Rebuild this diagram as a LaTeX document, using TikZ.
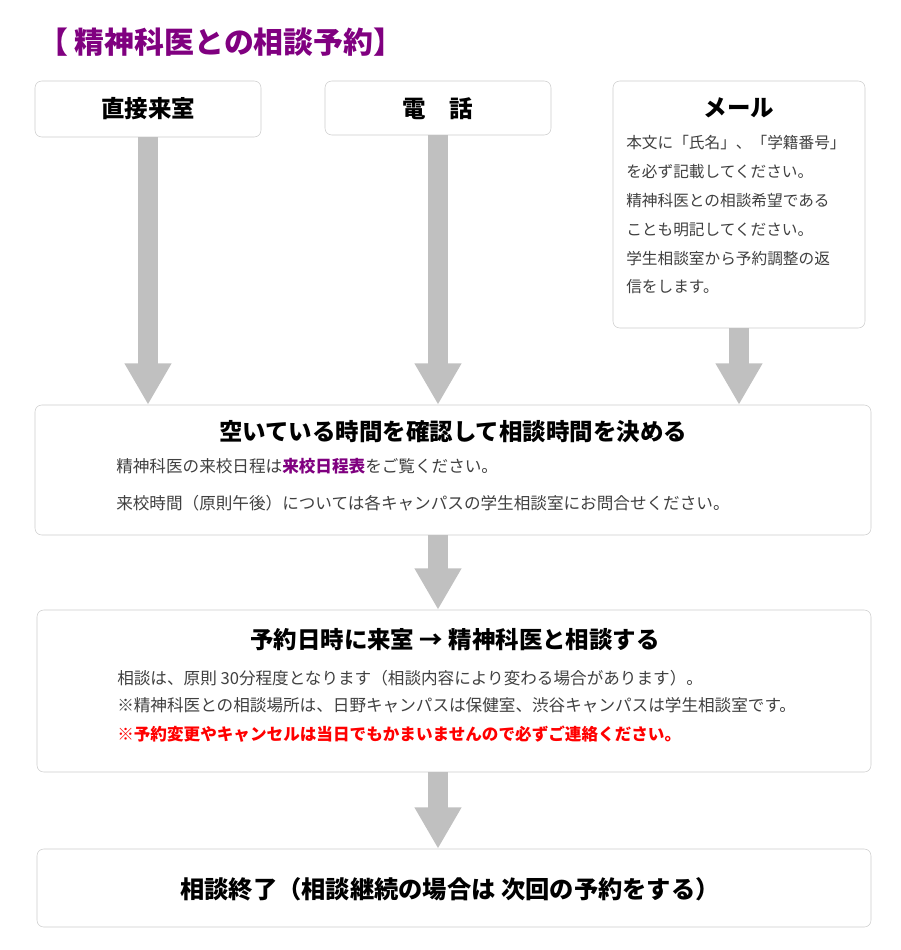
\documentclass[tikz,border=0pt]{standalone}
\usepackage{fontspec}
\setmainfont{Noto Sans CJK JP}
\usetikzlibrary{arrows.meta}
\definecolor{ttlpurple}{HTML}{800080}
\definecolor{boxline}{HTML}{CCCCCC}
\definecolor{flowgrey}{HTML}{C0C0C0}

\begin{document}
\begin{tikzpicture}[x=0.75pt, y=-0.75pt, every node/.style={inner sep=0pt}, box/.style={draw=boxline, rounded corners=5pt, fill=white}, hd/.style={font=\fontsize{17.6}{20}\selectfont\bfseries}, txt/.style={anchor=west, font=\fontsize{12.45}{14}\selectfont, text=black!75}, fat/.style={line width=14.5pt, draw=flowgrey, -{Triangle[length=31pt, width=33pt]}}]
	\useasboundingbox (0,0) rectangle (900,950);
	\node[anchor=west, text=ttlpurple, font=\fontsize{22.4}{26}\selectfont\bfseries] (title) at (38,42) {【 精神科医との相談予約】};
	% entry points
	\node[box, minimum width=169.5pt, minimum height=42pt] (b1) at (148,109) {};
	\node[box, minimum width=169.5pt, minimum height=40.5pt] (b2) at (438,108) {};
	\node[box, minimum width=189pt, minimum height=185.25pt] (b3) at (739,204.5) {};
	\node[hd] (h1) at (148,109) {直接来室};
	\node[hd] (h2) at (438,109) {電　話};
	\node[hd] (h3) at (739,108) {メール};
	\foreach \t [count=\i] in {本文に「氏名」、「学籍番号」, を必ず記載してください。, 精神科医との相談希望である, ことも明記してください。, 学生相談室から予約調整の返, 信をします。} {\node[txt, font=\fontsize{11.75}{14}\selectfont] (m\i) at (626,114.2+28.8*\i) {\t};}
	% flow
	\node[box, minimum width=627pt, minimum height=97.5pt] (b4) at (453,470) {};
	\node[box, minimum width=625.5pt, minimum height=121.5pt] (b5) at (454,691) {};
	\node[box, minimum width=625.5pt, minimum height=58.5pt] (b6) at (454,888) {};
	\node[hd] (h4) at (453,432) {空いている時間を確認して相談時間を決める};
	\node[txt] (t41) at (116,466) {精神科医の来校日程は{\bfseries\color{ttlpurple}来校日程表}をご覧ください。};
	\node[txt] (t42) at (116,503) {来校時間（原則午後）については各キャンパスの学生相談室にお問合せください。};
	\node[hd] (h5) at (455,640) {予約日時に来室 → 精神科医と相談する};
	\node[txt] (t51) at (117,678) {相談は、原則 30分程度となります（相談内容により変わる場合があります）。};
	\node[txt] (t52) at (117,705) {※精神科医との相談場所は、日野キャンパスは保健室、渋谷キャンパスは学生相談室です。};
	\node[txt, text=red, font=\fontsize{12.45}{14}\selectfont\bfseries] (t53) at (117,734) {※予約変更やキャンセルは当日でもかまいませんので必ずご連絡ください。};
	\node[hd, font=\fontsize{18.2}{20}\selectfont\bfseries] (h6) at (450,889) {相談終了（相談継続の場合は 次回の予約をする）};
	\foreach \n in {b1,b2,b3} {\draw[fat] (\n.south) -- (\n.south |- b4.north);}
	\draw[fat] (b2.south |- b4.south) -- (b2.south |- b5.north);
	\draw[fat] (b2.south |- b5.south) -- (b2.south |- b6.north);
\end{tikzpicture}
\end{document}
